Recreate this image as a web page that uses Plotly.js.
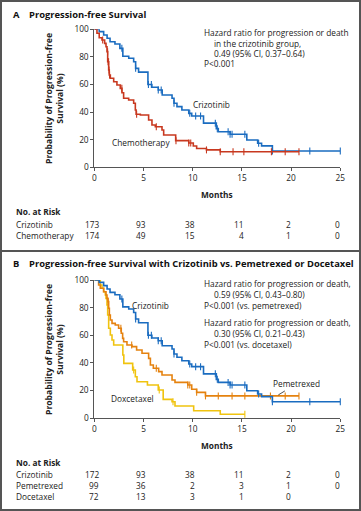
<!DOCTYPE html>
<html><head><meta charset="utf-8">
<script src="https://cdn.plot.ly/plotly-3.0.1.min.js"></script>
<style>html,body{margin:0;padding:0;background:#fff}#chart{width:361px;height:511px}</style>
</head><body><div id="chart"></div>
<script>
// ---------- DATA ----------
const riskMonths = [0, 5, 10, 15, 20, 25];

// Panel A / B crizotinib (Kaplan-Meier steps: time in months, survival %)
const crizoTime = [0, 0.5, 0.95, 1.3, 1.6, 2.1, 2.6, 2.9, 3.5, 4.0, 4.2, 4.5, 5.45, 5.85, 6.5, 6.9, 7.9, 8.1, 8.4, 8.9, 9.6, 9.9, 11.1, 12.4, 12.6, 13.8, 15.5, 16.6, 17.0, 18.1];
const crizoSurv = [100, 98.3, 95.9, 93.5, 91, 89.3, 86.2, 80.5, 79, 76.5, 71.7, 69, 60, 58, 56, 52.4, 50, 46.4, 44, 41.5, 39.1, 37.2, 32, 28, 25.8, 23.9, 19.8, 17.4, 15.5, 11.8];
const crizoEnd = 25;
const crizoCensor = [2.8, 4.2, 5.5, 5.8, 6.5, 6.8, 8.1, 9.7, 10.3, 10.8, 12.3, 12.5, 13.6, 13.8, 14.0, 15.3, 16.7, 18.1, 21.9, 25];

// Panel A chemotherapy
const chemoTime = [0, 0.27, 0.5, 0.78, 1.05, 1.19, 1.29, 1.36, 1.46, 1.52, 1.63, 1.97, 2.3, 2.64, 2.81, 2.98, 3.49, 4.0, 4.17, 4.25, 4.68, 5.52, 5.86, 6.2, 6.88, 7.05, 8.27, 9.6, 10.06, 10.4, 11.4, 12.8];
const chemoSurv = [100, 97.1, 93.9, 92.2, 89.8, 87.4, 83.8, 76.5, 70.5, 66.9, 64.5, 62, 59.6, 57.2, 54, 50, 48.8, 46.4, 41.5, 38.4, 37.9, 34.3, 30.7, 29.4, 27, 23.4, 19.3, 17.6, 15.4, 13.6, 12.6, 11.3];
const chemoEnd = 20.8;
const chemoCensor = [0.85, 1.35, 1.4, 1.45, 1.5, 1.55, 2.8, 4.3, 6.3, 8.3, 9.6, 9.8, 11.4, 12.8, 14.1, 15.2, 18.0, 19.4, 20.8];

// Panel B pemetrexed
const pemeTime = [0, 0.44, 0.61, 0.95, 1.19, 1.29, 1.39, 1.46, 1.53, 1.63, 1.8, 2.13, 2.47, 2.74, 2.88, 2.98, 3.32, 3.83, 4.3, 4.85, 5.52, 5.7, 6.0, 6.54, 6.88, 7.9, 8.2, 9.5, 9.9, 10.4, 11.3];
const pemeSurv = [100, 96.4, 94, 91.5, 89.1, 86.7, 84.3, 79.5, 74.6, 71, 68.6, 67.4, 65, 61.4, 57.7, 55.3, 52.9, 51.7, 49.3, 46.9, 43.2, 38.4, 36, 33.6, 31.2, 27.5, 25.8, 23.9, 20.8, 18.6, 16.0];
const pemeEnd = 20.8;
const pemeCensor = [1.4, 2.7, 3.8, 6.3, 9.5, 9.7, 10.4, 11.3, 12.6, 14.0, 15.3, 17.9, 19.4, 20.8];

// Panel B docetaxel
const doceTime = [0, 0.61, 0.78, 0.95, 1.12, 1.19, 1.29, 1.36, 1.46, 1.63, 1.8, 1.97, 2.9, 3.0, 3.9, 4.17, 4.34, 5.4, 6.5, 7.0, 7.9, 8.2, 10.1, 12.8];
const doceSurv = [100, 96.4, 94, 91.5, 89.1, 86.7, 81.9, 74.6, 65, 60.1, 56.5, 52.9, 45.7, 39.6, 34.8, 29.9, 26.3, 23.9, 20.3, 13.5, 11.8, 8.7, 5.3, 2.7];
const doceEnd = 15.3;
const doceCensor = [4.0, 6.6, 8.0, 15.3];

// Numbers at risk
const riskA_crizo = [173, 93, 38, 11, 2, 0];
const riskA_chemo = [174, 49, 15, 4, 1, 0];
const riskB_crizo = [172, 93, 38, 11, 2, 0];
const riskB_peme = [99, 36, 2, 3, 1, 0];
const riskB_doce = [72, 13, 3, 1, 0];

// ---------- STYLE / LAYOUT ----------
const W = 361, H = 511;
const FONT = 'Open Sans, sans-serif';
const FS = 8.3;
const DIGIT = 4.4;
const BLUE = '#1a6cc0', RED = '#c8381f', ORANGE = '#e5820f', YELLOW = '#f0c30f';
const px = v => v / W;
const py = v => 1 - v / H;

function stepAt(T, S, t) { let v = S[0]; for (let i = 0; i < T.length; i++) { if (T[i] <= t) v = S[i]; } return v; }

function km(T, S, end, censor, color, xa, ya) {
  return [
    { x: T.concat([end]), y: S.concat([S[S.length - 1]]), xaxis: xa, yaxis: ya, type: 'scatter', mode: 'lines',
      line: { shape: 'hv', color: color, width: 1.6 }, cliponaxis: false, hoverinfo: 'skip', showlegend: false },
    { x: censor, y: censor.map(t => stepAt(T, S, t)), xaxis: xa, yaxis: ya, type: 'scatter', mode: 'markers',
      marker: { symbol: 'line-ns-open', size: 5, color: color, line: { color: color, width: 1.1 } }, cliponaxis: false, hoverinfo: 'skip', showlegend: false }
  ];
}

const traces = [].concat(
  km(crizoTime, crizoSurv, crizoEnd, crizoCensor, BLUE, 'x', 'y'),
  km(chemoTime, chemoSurv, chemoEnd, chemoCensor, RED, 'x', 'y'),
  km(doceTime, doceSurv, doceEnd, doceCensor, YELLOW, 'x2', 'y2'),
  km(pemeTime, pemeSurv, pemeEnd, pemeCensor, ORANGE, 'x2', 'y2'),
  km(crizoTime, crizoSurv, crizoEnd, crizoCensor, BLUE, 'x2', 'y2')
);

const axX = (anchor) => ({ domain: [px(94.3), px(340.3)], range: [0, 25], dtick: 5, anchor: anchor,
  showline: true, linecolor: '#555', linewidth: 1, ticks: 'outside', ticklen: 3, tickcolor: '#555',
  tickfont: { family: FONT, size: FS, color: '#222' }, showgrid: false, zeroline: false, fixedrange: true });
const axY = (anchor, top, bot) => ({ domain: [py(bot), py(top)], range: [0, 100], dtick: 20, anchor: anchor,
  showline: true, linecolor: '#555', linewidth: 1, ticks: 'outside', ticklen: 3, tickcolor: '#555',
  tickfont: { family: FONT, size: FS, color: '#222' }, showgrid: false, zeroline: false, fixedrange: true });

const ann = [];
function txt(text, x, y, opts = {}) {
  ann.push(Object.assign({ text: text, x: px(x), y: py(y), xref: 'paper', yref: 'paper', showarrow: false,
    xanchor: 'left', yanchor: 'middle', font: { family: FONT, size: FS, color: '#222' } }, opts));
}

// Panel titles
const TF = { family: FONT, size: 9.4, color: '#111' };
txt('<b>A</b>', 11, 14, { font: TF });
txt('<b>Progression-free Survival</b>', 26.5, 14, { font: TF });
txt('<b>B</b>', 11, 263, { font: TF });
txt('<b>Progression-free Survival with Crizotinib vs. Pemetrexed or Docetaxel</b>', 26.5, 263, { font: TF });

// Y axis titles
[98, 349].forEach(yc => txt('<b>Probability of Progression-free<br>Survival (%)</b>', 54, yc,
  { textangle: -90, xanchor: 'center', font: { family: FONT, size: 8.6, color: '#222' } }));

// Months titles
txt('<b>Months</b>', 217.3, 194, { xanchor: 'center' });
txt('<b>Months</b>', 217.3, 445, { xanchor: 'center' });

// Panel A annotations
txt('Hazard ratio for progression or death', 201.5, 32.7);
txt('in the crizotinib group,', 211.5, 43);
txt('0.49 (95% CI, 0.37–0.64)', 211.5, 53.3);
txt('P<0.001', 201.5, 63.6);
txt('Crizotinib', 211, 105, { xanchor: 'center' });
txt('Chemotherapy', 140.5, 142.7, { xanchor: 'center' });

// Panel B annotations
txt('Hazard ratio for progression or death,', 201.5, 283.3);
txt('0.59 (95% CI, 0.43–0.80)', 211.5, 294);
txt('P<0.001 (vs. pemetrexed)', 201.5, 305);
txt('Hazard ratio for progression or death,', 201.5, 322.7);
txt('0.30 (95% CI, 0.21–0.43)', 211.5, 333.3);
txt('P<0.001 (vs. docetaxel)', 201.5, 344);
txt('Crizotinib', 150, 305, { xanchor: 'center' });
txt('Doxcetaxel', 132, 398.3, { xanchor: 'center' });
ann.push({ text: 'Pemetrexed', x: 18.7, y: 16.7, xref: 'x2', yref: 'y2', showarrow: true, arrowhead: 0,
  arrowwidth: 0.8, arrowcolor: '#222', ax: 18, ay: -11, standoff: 0, startstandoff: 0,
  font: { family: FONT, size: FS, color: '#222' } });

// Risk tables: numbers right-aligned so the widest entry of each column is centred on its tick
function riskTable(rows, labels, ys, xa) {
  riskMonths.forEach((m, i) => {
    const widest = Math.max(...rows.map(r => (r[i] === undefined ? 0 : String(r[i]).length)));
    rows.forEach((r, k) => {
      if (r[i] === undefined) return;
      ann.push({ text: String(r[i]), x: m, y: py(ys[k]), xref: xa, yref: 'paper', showarrow: false,
        xanchor: 'right', xshift: widest * DIGIT / 2, yanchor: 'middle', font: { family: FONT, size: FS, color: '#222' } });
    });
  });
  labels.forEach((l, k) => txt(l, 14, ys[k]));
}
txt('<b>No. at Risk</b>', 14, 211.7);
riskTable([riskA_crizo, riskA_chemo], ['Crizotinib', 'Chemotherapy'], [224, 235], 'x');
txt('<b>No. at Risk</b>', 14, 462.3);
riskTable([riskB_crizo, riskB_peme, riskB_doce], ['Crizotinib', 'Pemetrexed', 'Docetaxel'], [474, 485, 496], 'x2');

const layout = {
  width: W, height: H, margin: { l: 0, r: 0, t: 0, b: 0 }, paper_bgcolor: '#fff', plot_bgcolor: 'rgba(0,0,0,0)',
  showlegend: false, font: { family: FONT, size: FS, color: '#222' },
  xaxis: axX('y'), yaxis: axY('x', 29.3, 167.3),
  xaxis2: axX('y2'), yaxis2: axY('x2', 280, 418),
  annotations: ann,
  shapes: [
    { type: 'rect', xref: 'paper', yref: 'paper', x0: px(1), x1: px(360), y0: py(1), y1: py(510), line: { color: '#555', width: 2 } },
    { type: 'line', xref: 'paper', yref: 'paper', x0: 0, x1: 1, y0: py(251), y1: py(251), line: { color: '#555', width: 2 } }
  ]
};

Plotly.newPlot('chart', traces, layout, { staticPlot: true, displayModeBar: false });
</script>
</body></html>
